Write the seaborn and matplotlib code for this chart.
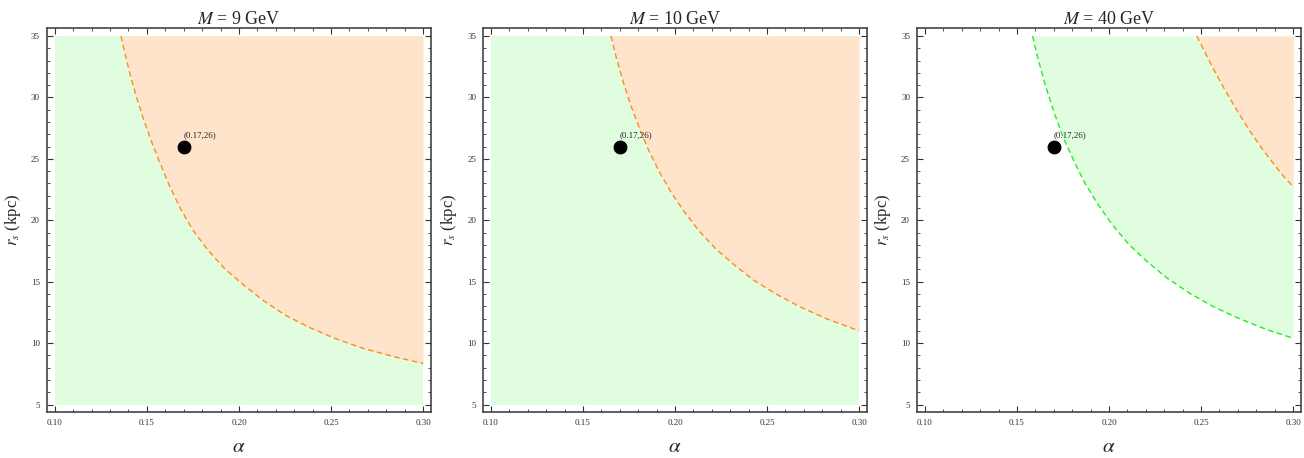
import numpy as np
import matplotlib
matplotlib.use("Agg")
import matplotlib.pyplot as plt
from matplotlib.ticker import MultipleLocator
import seaborn as sns

# masses shown in the three panels
masses = [9, 10, 40]

# benchmark point
alpha_pt = 0.17
rs_pt = 26
pt_label = "(0.17,26)"

# orange (upper) boundary, M = 9 GeV
o9_alpha = [0.1359, 0.138, 0.141, 0.1444, 0.148, 0.152, 0.1567, 0.162, 0.168, 0.175,
            0.183, 0.192, 0.202, 0.213, 0.225, 0.238, 0.252, 0.267, 0.283, 0.300]
o9_rs = [35.0, 33.6, 31.8, 30.0, 28.3, 26.6, 24.8, 22.9, 21.0, 19.2,
         17.6, 16.1, 14.8, 13.5, 12.3, 11.3, 10.4, 9.6, 8.95, 8.35]

# orange boundary, M = 10 GeV
o10_alpha = [0.1652, 0.168, 0.172, 0.176, 0.181, 0.186, 0.192, 0.198, 0.205, 0.213,
             0.222, 0.232, 0.243, 0.255, 0.268, 0.283, 0.300]
o10_rs = [35.0, 33.3, 31.2, 29.35, 27.35, 25.6, 23.8, 22.25, 20.7, 19.15,
          17.7, 16.4, 15.1, 14.0, 12.95, 11.95, 11.0]

# green (lower) boundary, M = 40 GeV
g40_alpha = [0.1585, 0.161, 0.165, 0.170, 0.175, 0.181, 0.187, 0.194, 0.202, 0.211,
             0.221, 0.232, 0.244, 0.257, 0.270, 0.285, 0.300]
g40_rs = [35.0, 33.4, 31.2, 28.85, 26.8, 24.8, 23.0, 21.3, 19.6, 18.0,
          16.6, 15.25, 14.05, 12.95, 12.05, 11.15, 10.4]

# orange boundary, M = 40 GeV
o40_alpha = [0.2477, 0.2512, 0.2549, 0.2593, 0.264, 0.2697, 0.2757, 0.2828, 0.2902, 0.295, 0.300]
o40_rs = [35.0, 33.95, 32.85, 31.6, 30.35, 28.9, 27.45, 25.9, 24.45, 23.55, 22.75]

# plot range of the scan
alpha_range = [0.10, 0.30]
rs_range = [5, 35]

green_fill = "#e0fde0"
orange_fill = "#ffe4cc"
orange_line = "#ff8c1a"
green_line = "#22ee22"

sns.set_theme(style="ticks")
plt.rcParams["font.family"] = ["Liberation Serif", "DejaVu Serif"]
plt.rcParams["mathtext.fontset"] = "stix"

fig = plt.figure(figsize=(13.04, 4.58), dpi=100)
lefts = [0.036, 0.3704, 0.7032]
axes = [fig.add_axes([l, 0.1004, 0.2945, 0.8384]) for l in lefts]

panels = [
    dict(green=None, orange=(o9_alpha, o9_rs)),
    dict(green=None, orange=(o10_alpha, o10_rs)),
    dict(green=(g40_alpha, g40_rs), orange=(o40_alpha, o40_rs)),
]

for ax, M, p in zip(axes, masses, panels):
    if p["green"] is None:
        # whole scan is green
        ax.fill_between(alpha_range, rs_range[0], rs_range[1], color=green_fill, lw=0)
    else:
        gx, gy = p["green"]
        ax.fill_between(gx, gy, rs_range[1], color=green_fill, lw=0)
        sns.lineplot(x=gx, y=gy, ax=ax, color=green_line, lw=1, linestyle=(0, (4, 2.5)))
    ox, oy = p["orange"]
    ax.fill_between(ox, oy, rs_range[1], color=orange_fill, lw=0)
    sns.lineplot(x=ox, y=oy, ax=ax, color=orange_line, lw=1, linestyle=(0, (4, 2.5)))

    sns.scatterplot(x=[alpha_pt], y=[rs_pt], ax=ax, color="black", s=85, edgecolor="black", zorder=5)
    ax.text(alpha_pt, rs_pt + 0.6, pt_label, fontsize=6.5, ha="left", va="bottom")

    ax.set_xlim(0.0957, 0.3043)
    ax.set_ylim(4.4, 35.65)
    ax.xaxis.set_major_locator(MultipleLocator(0.05))
    ax.xaxis.set_minor_locator(MultipleLocator(0.01))
    ax.yaxis.set_major_locator(MultipleLocator(5))
    ax.yaxis.set_minor_locator(MultipleLocator(1))
    ax.set_xticklabels([f"{t:.2f}" for t in ax.get_xticks()])
    ax.tick_params(which="both", direction="in", top=True, right=True, labelsize=6.5,
                   color="#333333", labelcolor="#333333", pad=5)
    ax.tick_params(which="major", length=4, width=0.8)
    ax.tick_params(which="minor", length=2, width=0.6)
    for s in ax.spines.values():
        s.set_color("#444444")
        s.set_linewidth(1.2)

    ax.set_title(f"$M$ = {M} GeV", fontsize=13, pad=3)
    ax.set_xlabel(r"$\alpha$", fontsize=15, labelpad=8)
    ax.set_ylabel(r"$r_s$ (kpc)", fontsize=12, labelpad=6)

fig.savefig("out.png", dpi=100)
